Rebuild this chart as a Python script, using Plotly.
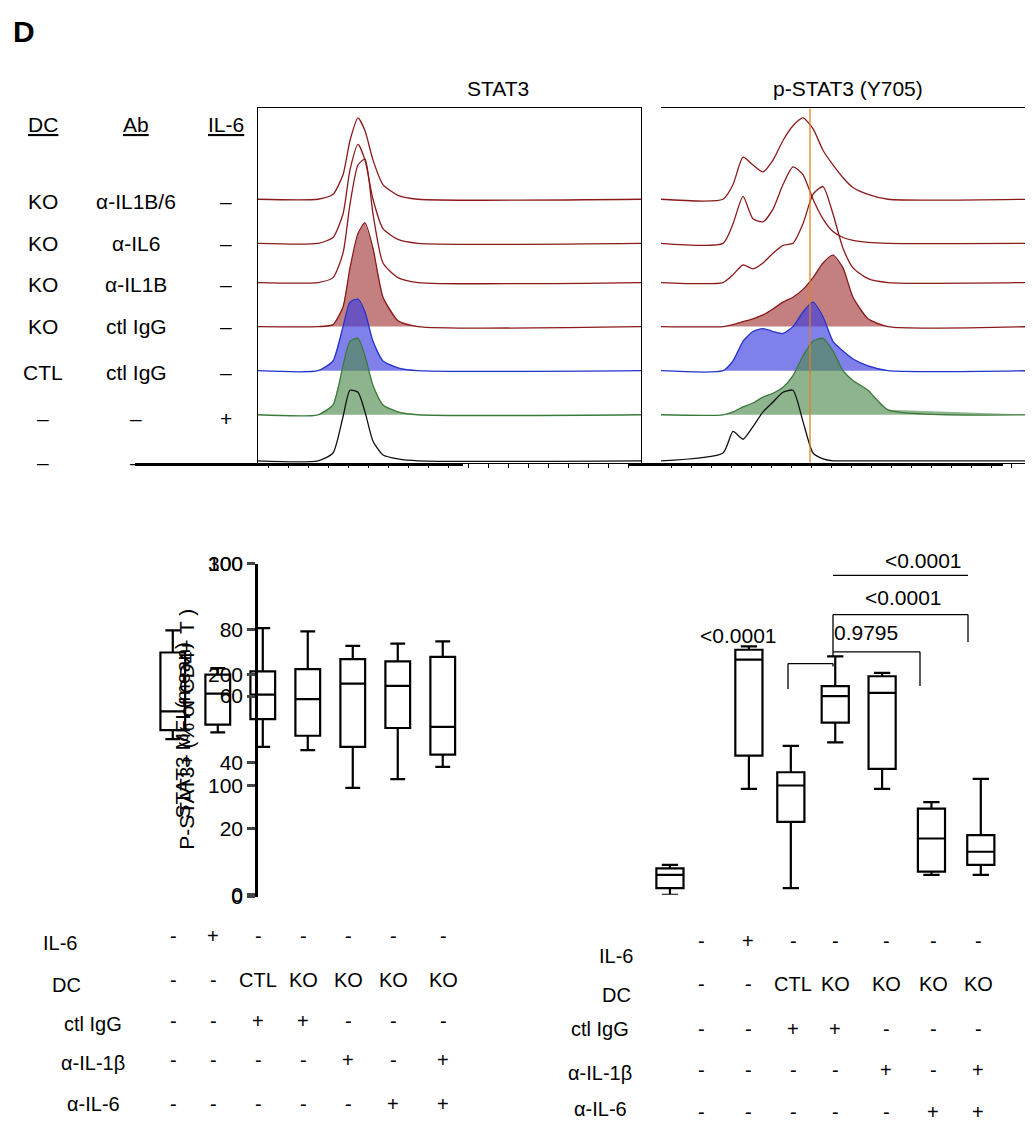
import plotly.graph_objects as go

W, H = 1033, 1127
FONT = "Liberation Sans, Arial, sans-serif"

row_labels = [("KO", "α-IL1B/6", "–"), ("KO", "α-IL6", "–"), ("KO", "α-IL1B", "–"),
              ("KO", "ctl IgG", "–"), ("CTL", "ctl IgG", "–"), ("–", "–", "+"), ("–", "–", "–")]
baselines = [269, 224, 184, 139, 94, 49, 2]
line_cols = ["#8B1A1A", "#8B1A1A", "#8B1A1A", "#8B1A1A", "#2233CC", "#3A7A3A", "#111111"]
fill_cols = [None, None, None, "rgba(165,60,60,0.65)", "rgba(60,60,225,0.65)", "rgba(80,140,80,0.65)", None]

stat3_x = [0, 60, 75, 85, 92, 100, 107, 115, 125, 140, 160, 383]
stat3_h = [
    [0, 0, 5, 25, 60, 83, 70, 40, 15, 4, 0, 0],
    [0, 0, 6, 30, 75, 101, 85, 45, 15, 4, 0, 0],
    [0, 0, 5, 30, 80, 120, 126, 70, 20, 5, 0, 0],
    [0, 0, 2, 20, 60, 95, 106, 80, 30, 6, 0, 0],
    [0, 0, 10, 45, 70, 73, 60, 30, 10, 3, 0, 0],
    [0, 0, 10, 50, 75, 78, 60, 30, 10, 3, 0, 0],
    [0, 0, 8, 45, 72, 70, 50, 20, 6, 2, 0, 0],
]
pstat3_x = [0, 62, 72, 82, 92, 102, 112, 122, 132, 142, 152, 162, 172, 182, 192, 207, 227, 369]
pstat3_h = [
    [0, 0, 15, 43, 35, 28, 40, 60, 75, 83, 72, 50, 35, 22, 12, 5, 0, 0],
    [0, 0, 20, 48, 25, 22, 35, 60, 78, 70, 45, 25, 12, 6, 3, 1, 0, 0],
    [0, 0, 8, 18, 14, 20, 30, 38, 40, 60, 90, 98, 70, 35, 15, 4, 0, 0],
    [0, 0, 2, 5, 8, 12, 18, 25, 30, 38, 50, 65, 73, 60, 30, 8, 0, 0],
    [0, 0, 10, 30, 40, 43, 40, 38, 45, 60, 70, 55, 30, 20, 12, 5, 0, 0],
    [0, 0, 3, 8, 12, 18, 22, 28, 40, 60, 75, 78, 65, 45, 35, 25, 5, 0],
    [0, 8, 30, 22, 35, 50, 60, 70, 72, 40, 8, 2, 0, 0, 0, 0, 0, 0],
]
pstat3_gate = 149

mfi_low = [142, 148, 135, 132, 98, 106, 117]
mfi_q1 = [150, 155, 160, 145, 135, 152, 128]
mfi_med = [167, 183, 182, 178, 192, 190, 153]
mfi_q3 = [220, 200, 203, 205, 214, 212, 216]
mfi_high = [240, 206, 242, 239, 226, 228, 230]

p_low = [0, 32, 2, 46, 32, 6, 6]
p_q1 = [2, 42, 22, 52, 38, 7, 9]
p_med = [6, 71, 33, 60, 61, 17, 13]
p_q3 = [8, 74, 37, 63, 66, 26, 18]
p_high = [9, 75, 45, 72, 67, 28, 35]
p_pos = [0, 1.6, 2.45, 3.35, 4.3, 5.3, 6.3]

table_rows = ["IL-6", "DC", "ctl IgG", "α-IL-1β", "α-IL-6"]
table_vals = [
    ["-", "+", "-", "-", "-", "-", "-"],
    ["-", "-", "CTL", "KO", "KO", "KO", "KO"],
    ["-", "-", "+", "+", "-", "-", "-"],
    ["-", "-", "-", "-", "+", "-", "+"],
    ["-", "-", "-", "-", "-", "+", "+"],
]

fig = go.Figure()

def add_hist(xs, hs, xa, ya):
    for i, h in enumerate(hs):
        b = baselines[i]
        ys = [b + v for v in h]
        if fill_cols[i]:
            fig.add_trace(go.Scatter(x=xs + xs[::-1], y=ys + [b] * len(xs), fill="toself",
                                     fillcolor=fill_cols[i], line=dict(width=0), mode="lines",
                                     xaxis=xa, yaxis=ya, hoverinfo="skip"))
        fig.add_trace(go.Scatter(x=xs, y=ys, mode="lines", line=dict(color=line_cols[i], width=1.3, shape="spline", smoothing=0.6),
                                 xaxis=xa, yaxis=ya, hoverinfo="skip"))

add_hist(stat3_x, stat3_h, "x", "y")
add_hist(pstat3_x, pstat3_h, "x2", "y2")
fig.add_trace(go.Scatter(x=[pstat3_gate, pstat3_gate], y=[0, 362], mode="lines",
                         line=dict(color="#E08020", width=1.3), xaxis="x2", yaxis="y2"))

def add_boxes(pos, lo, q1, med, q3, hi, xa, ya):
    for i in range(len(pos)):
        fig.add_trace(go.Box(x=[pos[i]], lowerfence=[lo[i]], q1=[q1[i]], median=[med[i]], q3=[q3[i]],
                             upperfence=[hi[i]], fillcolor="white", line=dict(color="black", width=2.2),
                             whiskerwidth=0.6, width=0.55, xaxis=xa, yaxis=ya, hoverinfo="skip"))

add_boxes(list(range(7)), mfi_low, mfi_q1, mfi_med, mfi_q3, mfi_high, "x3", "y3")
add_boxes(p_pos, p_low, p_q1, p_med, p_q3, p_high, "x4", "y4")

def dx(px0, px1): return [px0 / W, px1 / W]
def dy(top, bot): return [1 - bot / H, 1 - top / H]

hist_ax = dict(showgrid=False, zeroline=False, showline=True, mirror=True, linecolor="black",
               linewidth=1.2, showticklabels=False)
minor_ticks = dict(ticks="outside", ticklen=4, tickcolor="black")
fig.update_layout(
    width=W, height=H, margin=dict(l=0, r=0, t=0, b=0), showlegend=False,
    plot_bgcolor="white", paper_bgcolor="white", font=dict(family=FONT, color="black", size=20),
    xaxis=dict(domain=dx(250, 633), range=[0, 383], **hist_ax, **minor_ticks, tickvals=list(range(10, 383, 20))),
    yaxis=dict(domain=dy(90, 452), range=[0, 362], **hist_ax),
    xaxis2=dict(domain=dx(653, 1022), range=[0, 369], **hist_ax, **minor_ticks, tickvals=list(range(10, 369, 20))),
    yaxis2=dict(domain=dy(90, 452), range=[0, 362], **hist_ax),
    xaxis3=dict(domain=dx(127, 455), range=[-0.84, 6.45], showgrid=False, zeroline=False,
                showline=True, linecolor="black", linewidth=2.5, showticklabels=False),
    yaxis3=dict(domain=dy(555, 895), range=[0, 300], showgrid=False, zeroline=False, showline=True,
                linecolor="black", linewidth=2.5, ticks="outside", ticklen=8, tickwidth=2.5,
                tickvals=[0, 100, 200, 300], tickfont=dict(size=21),
                title=dict(text="STAT3 MFI (mean)", font=dict(size=21), standoff=12)),
    xaxis4=dict(domain=dx(620, 995), range=[-0.85, 6.75], showgrid=False, zeroline=False,
                showline=True, linecolor="black", linewidth=2.5, showticklabels=False),
    yaxis4=dict(domain=dy(555, 893), range=[0, 100], showgrid=False, zeroline=False, showline=True,
                linecolor="black", linewidth=2.5, ticks="outside", ticklen=8, tickwidth=2.5,
                tickvals=[0, 20, 40, 60, 80, 100], tickfont=dict(size=21),
                title=dict(text="P-STAT3+ (% of CD4+ T )", font=dict(size=21), standoff=8)),
)

ann = []
def A(x, y, t, size=21, xanchor="center", **kw):
    ann.append(dict(x=x / W, y=1 - y / H, xref="paper", yref="paper", text=t, showarrow=False,
                    xanchor=xanchor, yanchor="middle", font=dict(size=size), **kw))

A(3, 12, "<b>D</b>", size=30, xanchor="left")
A(490, 70, "STAT3")
A(840, 70, "p-STAT3 (Y705)")
A(35, 107, "<u>DC</u>"); A(128, 107, "<u>Ab</u>"); A(218, 107, "<u>IL-6</u>")
row_y = [185, 228, 270, 313, 360, 407, 452]
for (dc, ab, il), y in zip(row_labels, row_y):
    A(35, y, dc); A(128, y, ab); A(218, y, il)

left_cols = [165, 205, 250, 295, 340, 385, 435]
left_rows_y = [935, 972, 1022, 1062, 1107]
left_lab_y = [942, 985, 1025, 1065, 1107]
left_lab_x = [52, 58, 85, 85, 85]
right_cols = [693, 740, 785, 827, 878, 925, 970]
right_rows_y = [940, 982, 1030, 1072, 1115]
right_lab_y = [955, 995, 1030, 1075, 1112]
right_lab_x = [608, 608, 592, 592, 592]
for r, name in enumerate(table_rows):
    A(left_lab_x[r], left_lab_y[r], name, size=20)
    A(right_lab_x[r], right_lab_y[r], name, size=20)
    for c in range(7):
        v = table_vals[r][c]
        A(left_cols[c], left_rows_y[r] + (8 if r == 1 else 0), v, size=20)
        A(right_cols[c], right_rows_y[r] + (2 if r == 1 else 0), v, size=20)

A(730, 628, "<0.0001"); A(858, 625, "0.9795"); A(895, 590, "<0.0001"); A(915, 552, "<0.0001")
fig.update_layout(annotations=ann)

def L(x0, y0, x1, y1):
    fig.add_shape(type="line", xref="paper", yref="paper", x0=x0 / W, x1=x1 / W,
                  y0=1 - y0 / H, y1=1 - y1 / H, line=dict(color="black", width=1.3))
L(780, 683, 780, 657); L(780, 657, 825, 657); L(825, 657, 825, 660)
L(825, 645, 912, 645); L(912, 645, 912, 680); L(825, 645, 825, 650)
L(825, 607, 960, 607); L(960, 607, 960, 635)
L(825, 567, 960, 567)
L(825, 607, 825, 645)

fig.write_html("out.html")
